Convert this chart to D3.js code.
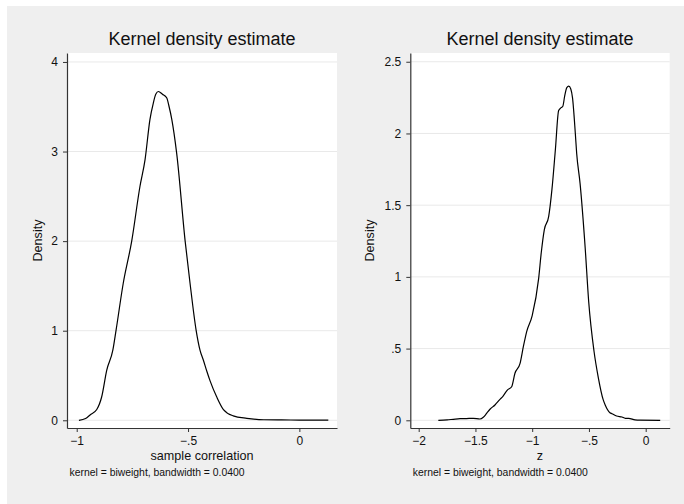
<!DOCTYPE html>
<html>
<head>
<meta charset="utf-8">
<script src="https://cdn.jsdelivr.net/npm/d3@7"></script>
<style>
  body { margin: 0; background: #fff; }
  svg { display: block; }
  text { font-family: "Liberation Sans", Arial, sans-serif; fill: #111; }
</style>
</head>
<body>
<svg id="chart" width="684" height="504"></svg>
<script>
// left panel: density of the sample correlation
const corrX = [-0.99, -0.96, -0.94, -0.91, -0.888, -0.865, -0.838, -0.823, -0.791, -0.753, -0.716, -0.693,
  -0.671, -0.656, -0.645, -0.633, -0.615, -0.596, -0.585, -0.573, -0.551, -0.513, -0.491, -0.464,
  -0.446, -0.431, -0.416, -0.401, -0.371, -0.341, -0.297, -0.236, -0.16, -0.08, 0, 0.13];
const corrDensity = [0, 0.02, 0.06, 0.12, 0.26, 0.56, 0.78, 1.01, 1.53, 2.0, 2.61, 2.91,
  3.36, 3.54, 3.64, 3.67, 3.64, 3.60, 3.5, 3.36, 2.98, 2.0, 1.53, 1.01,
  0.78, 0.67, 0.55, 0.44, 0.26, 0.12, 0.05, 0.022, 0.006, 0.004, 0.003, 0.002];

// right panel: density of z
const zX = [-1.827, -1.75, -1.695, -1.636, -1.58, -1.519, -1.46, -1.431, -1.40, -1.372, -1.328, -1.284,
  -1.26, -1.219, -1.181, -1.152, -1.107, -1.078, -1.048, -1.0, -0.943, -0.92, -0.893, -0.855,
  -0.826, -0.796, -0.767, -0.745, -0.73, -0.714, -0.695, -0.678, -0.66, -0.645, -0.62, -0.608,
  -0.578, -0.533, -0.502, -0.455, -0.418, -0.374, -0.356, -0.315, -0.297, -0.256, -0.209, -0.18,
  -0.15, -0.094, -0.05, 0.128];
const zDensity = [0, 0.003, 0.007, 0.011, 0.012, 0.014, 0.009, 0.021, 0.05, 0.077, 0.107, 0.146,
  0.165, 0.211, 0.234, 0.328, 0.397, 0.513, 0.62, 0.73, 0.99, 1.17, 1.33, 1.42,
  1.61, 1.885, 2.16, 2.18, 2.19, 2.26, 2.32, 2.33, 2.31, 2.25, 2.0, 1.86,
  1.65, 1.2, 0.825, 0.48, 0.30, 0.142, 0.105, 0.053, 0.046, 0.03, 0.023, 0.014,
  0.014, 0.003, 0.001, 0];

// ticks
const corrXTicks = [-1, -0.5, 0];
const corrYTicks = [0, 1, 2, 3, 4];
const zXTicks = [-2, -1.5, -1, -0.5, 0];
const zYTicks = [0, 0.5, 1, 1.5, 2, 2.5];

const titleText = "Kernel density estimate";
const noteText = "kernel = biweight, bandwidth = 0.0400";
const fontFam = "Liberation Sans, Arial, sans-serif";

const svg = d3.select("#chart");

// gray graph region
svg.append("rect")
  .attr("x", 7).attr("y", 6)
  .attr("width", 677).attr("height", 498)
  .attr("fill", "#efefef");

// stata style numbers: -.5, .5, 1.5
const fmt = d => {
  if (d === 0) return "0";
  let s = String(Math.abs(d)).replace(/^0\./, ".");
  return (d < 0 ? "\u2212" : "") + s;
};

function drawPanel(p) {
  const top = 53, bottom = 428;
  const x = d3.scaleLinear().domain(p.xDomain).range([p.left, p.right]);
  const y = d3.scaleLinear().domain(p.yDomain).range([bottom, top]);

  const g = svg.append("g");

  g.append("rect")
    .attr("x", p.left).attr("y", top)
    .attr("width", p.right - p.left).attr("height", bottom - top)
    .attr("fill", "#fff");

  // grid
  g.selectAll(".grid")
    .data(p.yTicks)
    .enter()
    .append("line")
    .attr("x1", p.left).attr("x2", p.right)
    .attr("y1", d => y(d)).attr("y2", d => y(d))
    .attr("stroke", "#e9e9e9")
    .attr("stroke-width", 1);

  // density curve
  const pts = p.xs.map((v, i) => [v, p.ys[i]]);
  const line = d3.line()
    .x(d => x(d[0]))
    .y(d => y(d[1]))
    .curve(d3.curveMonotoneX);
  g.append("path")
    .datum(pts)
    .attr("d", line)
    .attr("fill", "none")
    .attr("stroke", "#000")
    .attr("stroke-width", 1.2);

  // axes
  const yAxis = d3.axisLeft(y)
    .tickValues(p.yTicks)
    .tickFormat(fmt)
    .tickSize(4)
    .tickSizeOuter(0)
    .tickPadding(5);
  const xAxis = d3.axisBottom(x)
    .tickValues(p.xTicks)
    .tickFormat(fmt)
    .tickSize(4)
    .tickSizeOuter(0)
    .tickPadding(4);

  const ya = g.append("g")
    .attr("transform", `translate(${p.left},0)`)
    .call(yAxis)
    .attr("font-family", fontFam)
    .attr("font-size", 12);
  const xa = g.append("g")
    .attr("transform", `translate(0,${bottom})`)
    .call(xAxis)
    .attr("font-family", fontFam)
    .attr("font-size", 12);
  [ya, xa].forEach(a => {
    a.select(".domain").attr("stroke", "#333").attr("stroke-width", 1.2);
    a.selectAll(".tick line").attr("stroke", "#333");
    a.selectAll(".tick text").attr("fill", "#111");
  });

  const cx = (p.left + p.right) / 2;

  g.append("text")
    .attr("x", cx).attr("y", 45)
    .attr("text-anchor", "middle")
    .attr("font-size", 18)
    .text(titleText);

  g.append("text")
    .attr("x", cx).attr("y", 460)
    .attr("text-anchor", "middle")
    .attr("font-size", 12.6)
    .text(p.xTitle);

  g.append("text")
    .attr("transform", `translate(${p.yTitleX},${(top + bottom) / 2}) rotate(-90)`)
    .attr("text-anchor", "middle")
    .attr("font-size", 12.6)
    .text("Density");

  g.append("text")
    .attr("x", p.left + 2.5).attr("y", 476)
    .attr("font-size", 10.4)
    .text(noteText);
}

drawPanel({
  xs: corrX, ys: corrDensity,
  xTicks: corrXTicks, yTicks: corrYTicks,
  xDomain: [-1.0436, 0.169], yDomain: [-0.086, 4.1],
  left: 67, right: 337, yTitleX: 41.5,
  xTitle: "sample correlation"
});

drawPanel({
  xs: zX, ys: zDensity,
  xTicks: zXTicks, yTicks: zYTicks,
  xDomain: [-2.074, 0.2115], yDomain: [-0.0537, 2.561],
  left: 410.3, right: 669.7, yTitleX: 373.5,
  xTitle: "z"
});
</script>
</body>
</html>
